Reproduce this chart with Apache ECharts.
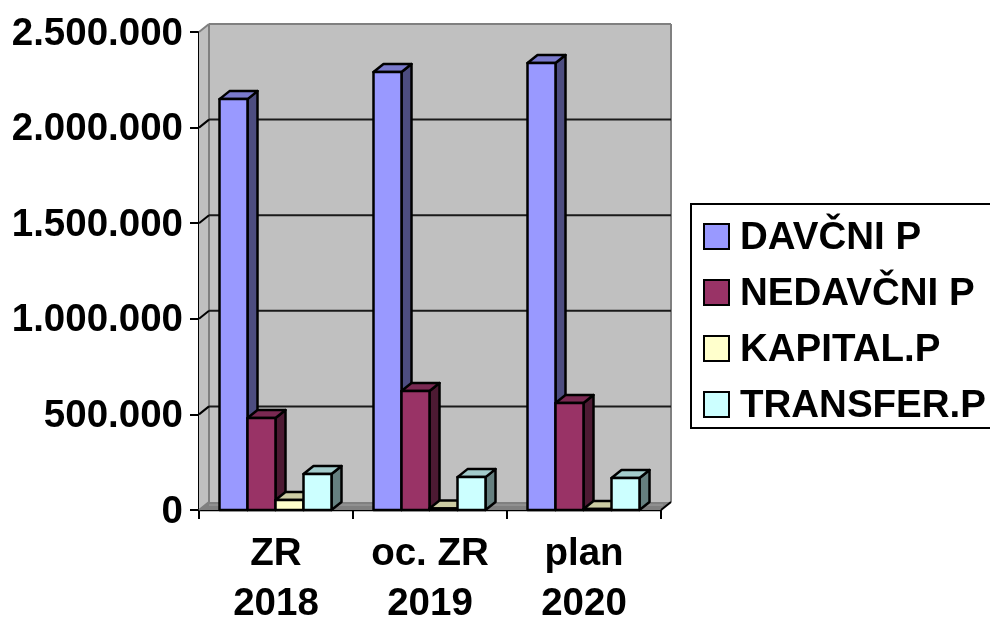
<!DOCTYPE html>
<html>
<head>
<meta charset="utf-8">
<style>
  html, body { margin: 0; padding: 0; background: #fff; }
  #chart { width: 990px; height: 617px; }
</style>
<script src="https://cdn.jsdelivr.net/npm/echarts@6/dist/echarts.min.js"></script>
</head>
<body>
<div id="chart"></div>
<script>
// data
const categories = ['ZR\n2018', 'oc. ZR\n2019', 'plan\n2020'];
const seriesNames = ['DAVČNI P', 'NEDAVČNI P', 'KAPITAL.P', 'TRANSFER.P'];
const davcni = [2149000, 2291000, 2338000];
const nedavcni = [481000, 622000, 560000];
const kapital = [52000, 8000, 5000];
const transfer = [188000, 172000, 167000];
const tickValues = [0, 500000, 1000000, 1500000, 2000000, 2500000];
const tickLabels = ['0', '500.000', '1.000.000', '1.500.000', '2.000.000', '2.500.000'];

const seriesValues = [davcni, nedavcni, kapital, transfer];
// front, top, side face colours
const faceColors = [
    ['#9999ff', '#7a7acc', '#4d4d80'],
    ['#993366', '#7a2952', '#4d1a33'],
    ['#ffffcc', '#ccccA3', '#808066'],
    ['#ccffff', '#a3cccc', '#668080']
];
const DEPTH_X = 10;
const DEPTH_Y = -8;
const FONT = '"Liberation Sans", Arial, sans-serif';
// rich style: the top padding pushes the text down a little
const labelRich = {
    t: { fontFamily: FONT, fontWeight: 'bold', fontSize: 38.5, color: '#000', padding: [4, 0, 0, 0] }
};

function poly(points, fill, stroke, lineWidth) {
    return {
        type: 'polygon',
        shape: { points: points },
        style: { fill: fill, stroke: stroke || null, lineWidth: lineWidth || 0, lineJoin: 'round' },
        silent: true
    };
}

function line(x1, y1, x2, y2, stroke, lineWidth) {
    return {
        type: 'line',
        shape: { x1: x1, y1: y1, x2: x2, y2: y2 },
        style: { stroke: stroke, lineWidth: lineWidth },
        silent: true
    };
}

// back wall, side wall, floor and the gridlines on them
function renderWalls(params, api) {
    if (params.dataIndex !== 0) return null;
    const grid = params.coordSys;
    const x0 = grid.x;
    const x1 = grid.x + grid.width;
    const y0 = api.coord([0, 0])[1];
    const yTop = api.coord([0, 2500000])[1];
    const dx = DEPTH_X;
    const dy = DEPTH_Y;
    const children = [
        poly([[x0, yTop], [x0 + dx, yTop + dy], [x1 + dx, yTop + dy], [x1 + dx, y0 + dy], [x0 + dx, y0 + dy], [x0, y0]], '#c0c0c0'),
        poly([[x0, y0], [x0 + dx, y0 + dy], [x1 + dx, y0 + dy], [x1, y0]], '#808080'),
        line(x0 + dx, yTop + dy, x1 + dx, yTop + dy, '#808080', 2),
        line(x0 + dx, yTop + dy, x0 + dx, y0 + dy, '#808080', 2),
        line(x1 + dx, yTop + dy, x1 + dx, y0 + dy, '#808080', 2),
        line(x0, yTop, x0 + dx, yTop + dy, '#808080', 2),
        line(x0, y0, x0 + dx, y0 + dy, '#808080', 2),
        line(x0 + dx, y0 + dy + 3, x1 + dx - 8, y0 + dy + 3, '#a0a0a0', 1)
    ];
    tickValues.slice(1, -1).forEach(function (v) {
        const y = api.coord([0, v])[1];
        children.push(line(x0, y, x0 + dx, y + dy, '#000', 2));
        children.push(line(x0 + dx, y + dy, x1 + dx, y + dy, '#1a1a1a', 2));
    });
    children.push(line(x1, y0, x1 + dx, y0 + dy, '#000', 2));
    return { type: 'group', children: children };
}

function renderBar(seriesIndex) {
    return function (params, api) {
        const band = api.size([1, 0])[0];
        const w = band * 28 / 154;
        const base = api.coord([api.value(0), 0]);
        const top = api.coord([api.value(0), api.value(1)]);
        const left = base[0] + (seriesIndex - 2) * w - 0.5;
        const right = left + w;
        const dx = DEPTH_X;
        const dy = DEPTH_Y;
        const c = faceColors[seriesIndex];
        return {
            type: 'group',
            children: [
                poly([[right, base[1]], [right + dx, base[1] + dy], [right + dx, top[1] + dy], [right, top[1]]], c[2], '#000', 2.5),
                poly([[left, top[1]], [left + dx, top[1] + dy], [right + dx, top[1] + dy], [right, top[1]]], c[1], '#000', 2.5),
                poly([[left, base[1]], [left, top[1]], [right, top[1]], [right, base[1]]], c[0], '#000', 2.5)
            ]
        };
    };
}

const option = {
    animation: false,
    backgroundColor: '#fff',
    grid: { left: 199, top: 32, width: 462, height: 478, outerBoundsMode: 'none' },
    legend: {
        data: seriesNames,
        orient: 'vertical',
        left: 691,
        top: 204,
        padding: [15, 40, 2, 12],
        backgroundColor: '#fff',
        borderColor: '#000',
        borderWidth: 2,
        borderRadius: 0,
        itemWidth: 25,
        itemHeight: 25,
        itemGap: 17,
        icon: 'rect',
        selectedMode: false,
        formatter: function (name) { return '{t|' + name + '}'; },
        textStyle: { fontFamily: FONT, fontWeight: 'bold', fontSize: 38.5, color: '#000', padding: [0, 0, 0, 6], rich: labelRich }
    },
    xAxis: {
        type: 'category',
        data: categories,
        axisLine: { show: true, onZero: false, lineStyle: { color: '#000', width: 2.4 } },
        axisTick: { show: true, alignWithLabel: false, length: 9, lineStyle: { color: '#000', width: 2 } },
        axisLabel: {
            interval: 0, margin: 19, lineHeight: 50,
            fontFamily: FONT, fontWeight: 'bold', fontSize: 38.5, color: '#000'
        }
    },
    yAxis: {
        type: 'value',
        min: 0,
        max: 2500000,
        interval: 500000,
        axisLine: { show: true, lineStyle: { color: '#000', width: 2 } },
        axisTick: { show: true, length: 9, lineStyle: { color: '#000', width: 2 } },
        splitLine: { show: false },
        axisLabel: {
            margin: 16,
            rich: labelRich,
            formatter: function (v) { return '{t|' + tickLabels[tickValues.indexOf(v)] + '}'; }
        }
    },
    series: [
        {
            name: 'walls',
            type: 'custom',
            renderItem: renderWalls,
            data: [[0, 0]],
            silent: true,
            z: 1
        }
    ].concat(seriesNames.map(function (name, i) {
        return {
            name: name,
            type: 'custom',
            renderItem: renderBar(i),
            encode: { x: 0, y: 1 },
            itemStyle: { color: faceColors[i][0], borderColor: '#000', borderWidth: 2 },
            data: seriesValues[i].map(function (v, k) { return [k, v]; }),
            z: 2 + i
        };
    }))
};

const chart = echarts.init(document.getElementById('chart'));
chart.setOption(option);
</script>
</body>
</html>
